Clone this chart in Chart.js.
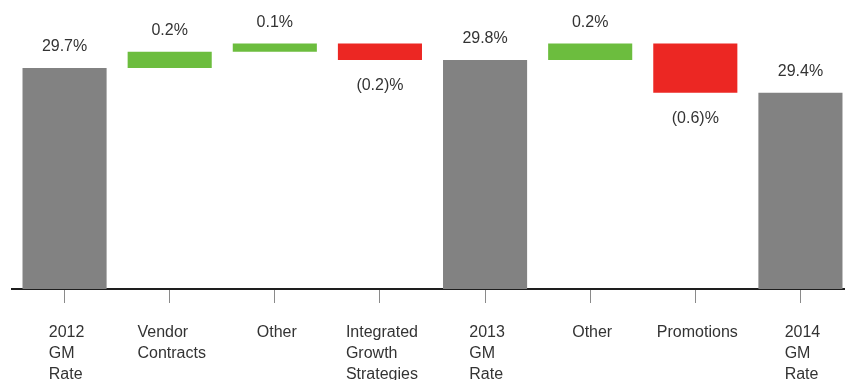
<!DOCTYPE html>
<html><head><meta charset="utf-8">
<script src="https://cdn.jsdelivr.net/npm/chart.js@4"></script>
<style>
html,body{margin:0;padding:0;overflow:hidden;background:#fff;width:845px;height:380px}
#wrap{position:absolute;left:0;top:0;width:856px;height:380px}
</style>
</head><body>
<div id="wrap"><canvas id="c" width="856" height="380"></canvas></div>
<script>
// ---- data ----
const categories = [["2012","GM","Rate"],["Vendor","Contracts"],["Other"],["Integrated","Growth","Strategies"],["2013","GM","Rate"],["Other"],["Promotions"],["2014","GM","Rate"]];
const kinds = ["total","delta","delta","delta","total","delta","delta","total"];
const values = [29.7, 0.2, 0.1, -0.2, 29.8, 0.2, -0.6, 29.4];
const yMin = 27.0, yMax = 30.3;

// ---- build floating ranges for waterfall ----
const ranges = [];
let running = 0;
values.forEach((v, i) => {
  if (kinds[i] === "total") { ranges.push([yMin, v]); running = v; }
  else { const end = Math.round((running + v) * 100) / 100; ranges.push([running, end]); running = end; }
});
const colors = values.map((v, i) => kinds[i] === "total" ? "#828282" : (v >= 0 ? "#6cbd3e" : "#ec2723"));
const fmt = (v, i) => (kinds[i] === "delta" && v < 0) ? "(" + Math.abs(v).toFixed(1) + ")%" : v.toFixed(1) + "%";

const FONT = '16px "Liberation Sans", Arial, sans-serif';

const labelPlugin = {
  id: "wfLabels",
  afterDraw(chart) {
    const ctx = chart.ctx;
    const meta = chart.getDatasetMeta(0);
    ctx.save();
    ctx.font = FONT;
    ctx.fillStyle = "#333333";
    ctx.textBaseline = "alphabetic";
    meta.data.forEach((el, i) => {
      const top = Math.min(el.y, el.base), bot = Math.max(el.y, el.base);
      ctx.textAlign = "center";
      const t = fmt(values[i], i);
      if (kinds[i] === "delta" && values[i] < 0) ctx.fillText(t, el.x, bot + 30);
      else ctx.fillText(t, el.x, top - 17);
    });
    // category labels: block centered under tick, lines left-aligned
    const xs = chart.scales.x;
    ctx.textAlign = "left";
    categories.forEach((lines, i) => {
      const cx = xs.getPixelForTick(i) + 2;
      const w = Math.max(...lines.map(l => ctx.measureText(l).width));
      const x0 = cx - w / 2;
      lines.forEach((l, j) => ctx.fillText(l, x0, 337 + j * 21));
    });
    ctx.restore();
  }
};

new Chart(document.getElementById("c"), {
  type: "bar",
  data: {
    labels: categories.map(c => c.join(" ")),
    datasets: [{ data: ranges, backgroundColor: colors, borderWidth: 0, barPercentage: 0.8, categoryPercentage: 1 }]
  },
  options: {
    responsive: false,
    animation: false,
    devicePixelRatio: 1,
    layout: { padding: { left: 12, right: 3, top: 19, bottom: 77 } },
    plugins: { legend: { display: false }, tooltip: { enabled: false } },
    scales: {
      x: {
        grid: { offset: false, drawOnChartArea: false, drawTicks: true, tickLength: 14, color: "#8a8a8a", lineWidth: 1 },
        border: { display: true, color: "#1e1e1e", width: 2 },
        ticks: { display: false }
      },
      y: { display: false, min: yMin, max: yMax }
    }
  },
  plugins: [labelPlugin]
});
</script>
</body></html>
